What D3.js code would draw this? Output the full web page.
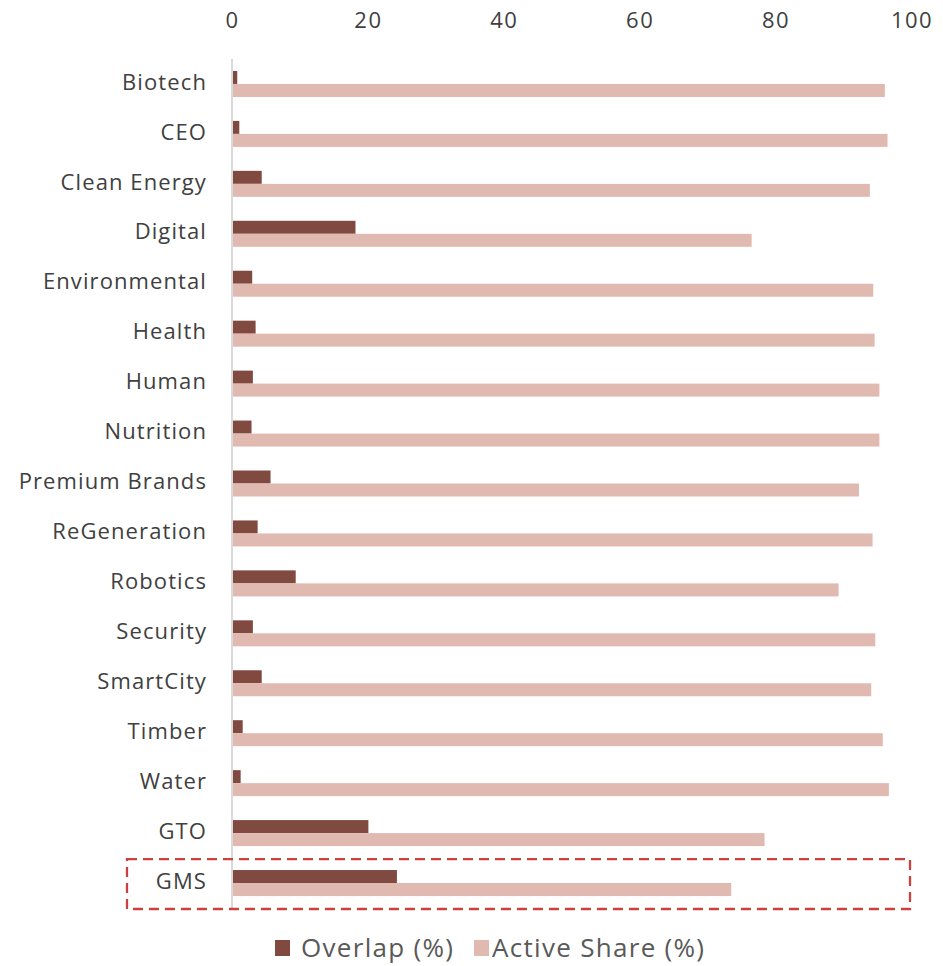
<!DOCTYPE html>
<html>
<head>
<meta charset="utf-8">
<script src="https://cdn.jsdelivr.net/npm/d3@7"></script>
<style>
  body { margin: 0; background: #fff; }
  svg text { font-family: "Open Sans", Lato, sans-serif; }
</style>
</head>
<body>
<div id="chart"></div>
<script>
// data
const categories = ["Biotech", "CEO", "Clean Energy", "Digital", "Environmental", "Health", "Human",
  "Nutrition", "Premium Brands", "ReGeneration", "Robotics", "Security", "SmartCity", "Timber",
  "Water", "GTO", "GMS"];
const overlap = [0.7, 1.0, 4.3, 18.1, 2.9, 3.4, 3.0, 2.8, 5.6, 3.7, 9.3, 3.0, 4.3, 1.5, 1.2, 20.0, 24.2];
const activeShare = [96.0, 96.4, 93.8, 76.4, 94.3, 94.5, 95.2, 95.2, 92.2, 94.2, 89.2, 94.6, 94.0, 95.7, 96.6, 78.3, 73.4];
const xTicks = [0, 20, 40, 60, 80, 100];
const seriesNames = ["Overlap (%)", "Active Share (%)"];
const highlight = "GMS";

const colors = ["#804a40", "#e0bab1"];
const W = 943, H = 966;
const margin = {top: 59, right: 31, bottom: 58, left: 232.5};

const svg = d3.select("#chart").append("svg")
  .attr("width", W)
  .attr("height", H);

const x = d3.scaleLinear().domain([0, 100]).range([margin.left, W - margin.right]);
const y = d3.scaleBand().domain(categories).range([margin.top, H - margin.bottom]).paddingInner(0).paddingOuter(0);
const barH = 13;

// top axis labels (no line, no ticks)
svg.append("g").selectAll("text")
  .data(xTicks)
  .join("text")
  .attr("x", d => x(d))
  .attr("y", 28)
  .attr("text-anchor", "middle")
  .attr("font-size", 22)
  .attr("letter-spacing", 1.5)
  .attr("fill", "#404040")
  .text(d => d);

// bars
const rows = categories.map((c, i) => ({cat: c, vals: [overlap[i], activeShare[i]]}));
const g = svg.append("g");
rows.forEach(r => {
  const cy = y(r.cat) + y.bandwidth() / 2;
  g.selectAll(null)
    .data(r.vals)
    .join("rect")
    .attr("x", x(0))
    .attr("y", (d, j) => cy - barH + j * barH)
    .attr("width", d => x(d) - x(0))
    .attr("height", barH)
    .attr("fill", (d, j) => colors[j]);
});

// vertical axis line
svg.append("line")
  .attr("x1", x(0) - 0.5).attr("x2", x(0) - 0.5)
  .attr("y1", y.range()[0]).attr("y2", y.range()[1])
  .attr("stroke", "#d9d9d9")
  .attr("stroke-width", 2);

// category labels
svg.append("g").selectAll("text")
  .data(categories)
  .join("text")
  .attr("x", 207)
  .attr("y", d => y(d) + y.bandwidth() / 2 - 2)
  .attr("dy", "0.35em")
  .attr("text-anchor", "end")
  .attr("font-size", 22)
  .attr("letter-spacing", 1.1)
  .attr("fill", "#404040")
  .text(d => d);

// dashed highlight box
const hy = y(highlight);
svg.append("rect")
  .attr("x", 127)
  .attr("y", hy + 1)
  .attr("width", 910 - 127)
  .attr("height", y.bandwidth())
  .attr("fill", "none")
  .attr("stroke", "#c9423f")
  .attr("stroke-width", 2.3)
  .attr("stroke-dasharray", "10,6");

// legend
const legend = svg.append("g").attr("transform", "translate(0,948)");
const legX = [275, 474];
seriesNames.forEach((s, i) => {
  legend.append("rect")
    .attr("x", legX[i]).attr("y", -8)
    .attr("width", 15).attr("height", 16)
    .attr("fill", colors[i]);
  legend.append("text")
    .attr("x", legX[i] + (i ? 18 : 26))
    .attr("y", 0)
    .attr("dy", "0.35em")
    .attr("font-size", 26)
    .attr("letter-spacing", 1.3)
    .attr("fill", "#595959")
    .text(s);
});
</script>
</body>
</html>
